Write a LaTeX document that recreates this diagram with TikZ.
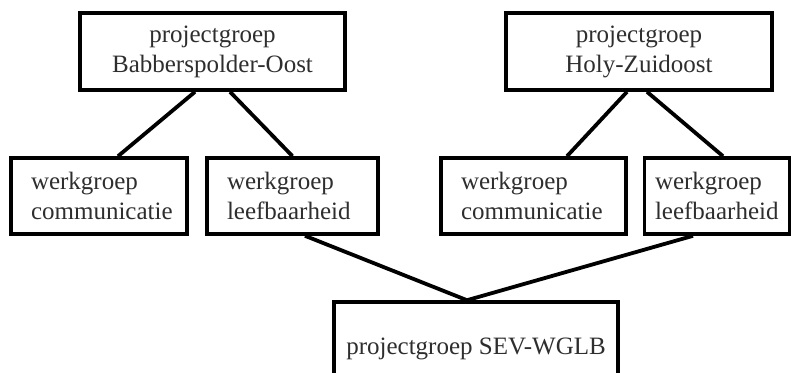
\documentclass[tikz,border=0pt]{standalone}
\usepackage{fontspec}
\setmainfont{Liberation Serif}
\usepackage{tikz}
\tikzset{
  orgbox/.style={rectangle, draw, line width=1.8pt, inner xsep=10pt, minimum height=38pt, text=black!82, font=\fontsize{12.5}{15}\selectfont},
  orgline/.style={line width=1.9pt}
}
\newcommand{\projectbox}[4] {\node at (#1) (#2) [orgbox, align=center, #3] {#4};}
\newcommand{\werkbox}[4] {\node at (#1) (#2) [orgbox, align=left, #3] {#4};}
\newcommand{\orglink}[2] {\draw [orgline] (#1) -- (#2);}

\begin{document}
\begin{tikzpicture}[x=0.5pt, y=-0.5pt]
\useasboundingbox (0,0) rectangle (791,372);
\clip (0,0) rectangle (791,372);

\projectbox {212.5,51.5}{babber}{minimum width=132.5pt, minimum height=38.5pt}{projectgroep\\Babberspolder-Oost}
\projectbox {639,51.5}{holy}{minimum width=133pt, minimum height=38.5pt}{projectgroep\\Holy-Zuidoost}

\werkbox {99,196}{comm1}{text width=68pt}{werkgroep\\communicatie}
\werkbox {292.5,196}{leef1}{text width=65.5pt}{werkgroep\\leefbaarheid}
\werkbox {533.5,196}{comm2}{text width=72.5pt}{werkgroep\\communicatie}
\werkbox {717,196}{leef2}{text width=62pt, inner xsep=5.25pt}{werkgroep\\leefbaarheid}

\projectbox {476,349}{sev}{minimum width=142pt, minimum height=47pt, inner xsep=4.5pt}{projectgroep SEV-WGLB}

\orglink {[xshift=-8.75pt]babber.south}{[xshift=9.5pt]comm1.north}
\orglink {[xshift=8.75pt]babber.south}{leef1.north}
\orglink {[xshift=-6pt]holy.south}{[xshift=16.75pt]comm2.north}
\orglink {[xshift=4pt]holy.south}{[xshift=3pt]leef2.north}

\orglink {[xshift=6.25pt]leef1.south}{[xshift=-4.5pt]sev.north}
\orglink {[xshift=-12pt]leef2.south}{[xshift=-4.5pt]sev.north}

\end{tikzpicture}
\end{document}
